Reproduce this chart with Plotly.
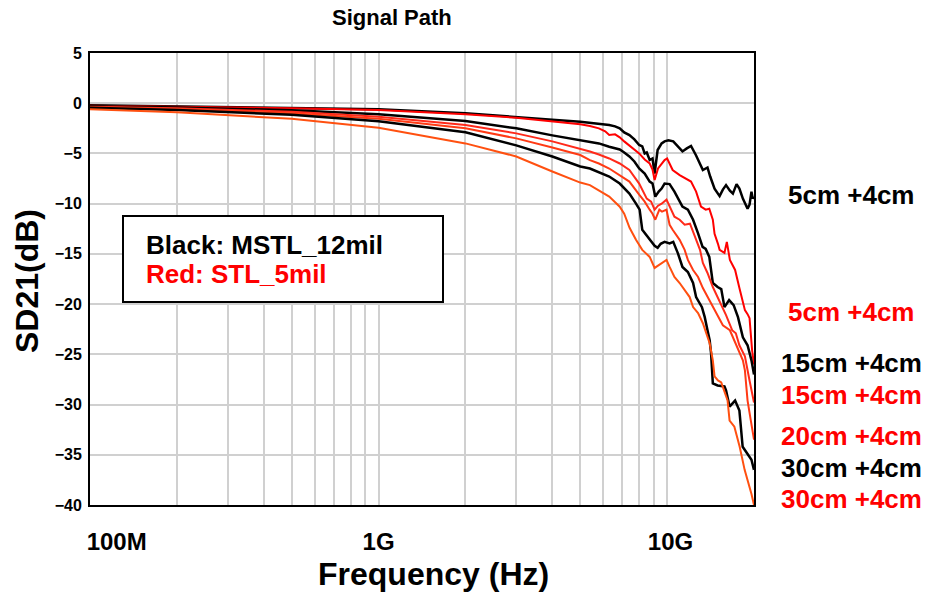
import plotly.graph_objects as go

# Frequencies in GHz, SD21 in dB
f_b5 = [0.1, 0.2, 0.5, 1, 2, 3, 4, 5, 5.4, 5.8, 6.1, 6.3, 6.6, 6.85, 7.1, 7.4, 7.7, 8.0, 8.2, 8.36, 8.5, 8.7, 8.9, 9.05, 9.27, 9.57, 9.8, 10.1, 10.5, 11.3, 11.7, 12.1, 12.6, 13.3, 13.8, 14.1, 14.6, 15.2, 15.6, 16.0, 16.5, 16.9, 17.4, 17.8, 18.3, 19.0, 19.3, 19.6, 19.8, 20]
d_b5 = [-0.2, -0.3, -0.45, -0.6, -1.0, -1.34, -1.65, -1.85, -1.95, -2.0, -2.1, -2.17, -2.3, -2.5, -2.9, -3.17, -3.6, -4.16, -4.3, -5.0, -4.9, -5.66, -5.5, -7.0, -4.66, -4.0, -3.8, -3.7, -3.8, -4.8, -4.5, -4.26, -5.2, -6.65, -6.4, -7.3, -8.5, -9.25, -8.6, -8.15, -8.7, -9.0, -8.05, -8.5, -9.5, -10.5, -10.1, -8.8, -9.5, -9.3]

f_r5 = [0.1, 0.2, 0.5, 1, 2, 3, 4, 5, 5.4, 5.8, 6.1, 6.3, 6.6, 6.85, 7.1, 7.4, 7.7, 8.0, 8.36, 8.7, 8.9, 9.05, 9.3, 9.57, 9.8, 10.0, 10.45, 11.05, 11.6, 12.1, 12.6, 13.1, 13.6, 14.0, 14.4, 14.6, 15.0, 15.2, 15.8, 16.1, 16.5, 17.2, 17.8, 18.6, 19.0, 19.3, 19.7, 20]
d_r5 = [-0.25, -0.33, -0.5, -0.68, -1.1, -1.44, -1.8, -2.1, -2.27, -2.5, -2.8, -3.17, -3.1, -3.4, -3.8, -4.2, -4.6, -5.0, -5.6, -6.0, -6.6, -7.65, -6.5, -6.0, -5.66, -5.5, -6.65, -7.15, -7.5, -7.8, -8.8, -10.3, -10.6, -10.5, -11.6, -13.0, -14.0, -14.6, -14.9, -13.8, -15.6, -16.6, -18.4, -20.6, -21.0, -21.4, -24.6, -26.0]

f_b15 = [0.1, 0.2, 0.5, 1, 2, 3, 4, 5, 5.4, 5.8, 6.3, 6.85, 7.1, 7.4, 7.7, 8.0, 8.36, 8.7, 8.9, 9.1, 9.35, 9.57, 9.8, 10.2, 10.6, 11.3, 11.8, 12.3, 12.8, 13.27, 13.6, 14.0, 14.4, 14.96, 15.4, 15.8, 16.4, 17.0, 17.6, 18.3, 19.0, 19.6, 20]
d_b15 = [-0.3, -0.42, -0.7, -1.1, -1.77, -2.5, -3.2, -3.67, -3.8, -4.0, -4.33, -4.6, -4.9, -5.3, -5.8, -6.5, -7.0, -7.8, -8.0, -9.3, -8.8, -8.5, -8.0, -8.05, -8.8, -10.3, -10.6, -11.6, -12.96, -14.3, -14.5, -15.3, -17.9, -18.3, -18.5, -20.3, -19.6, -20.1, -21.3, -23.3, -24.1, -25.6, -27.0]

f_r15 = [0.1, 0.2, 0.5, 1, 2, 3, 4, 5, 5.4, 5.8, 6.3, 6.85, 7.4, 8.0, 8.36, 8.5, 8.8, 9.05, 9.3, 9.57, 9.95, 10.2, 10.6, 11.05, 11.5, 12.0, 12.6, 13.0, 13.3, 13.8, 14.4, 14.96, 15.6, 16.0, 16.8, 17.3, 17.8, 18.6, 19.3, 20]
d_r15 = [-0.35, -0.5, -0.85, -1.35, -2.17, -3.0, -3.8, -4.5, -4.8, -5.1, -5.5, -6.0, -6.65, -8.0, -9.0, -9.5, -9.8, -10.6, -10.2, -10.0, -9.6, -10.3, -11.3, -11.6, -12.1, -12.0, -13.6, -14.6, -15.9, -16.9, -18.3, -19.3, -20.3, -21.1, -22.6, -22.9, -24.1, -25.2, -27.6, -29.8]

f_r20 = [0.1, 0.2, 0.5, 1, 2, 3, 4, 5, 5.4, 5.8, 6.3, 6.85, 7.4, 8.0, 8.36, 8.7, 8.9, 9.1, 9.4, 9.6, 9.95, 10.2, 10.45, 11.05, 11.5, 11.8, 12.3, 12.8, 13.3, 14.0, 14.6, 15.0, 15.6, 16.5, 17.1, 17.8, 18.3, 18.6, 19.0, 19.5, 20]
d_r20 = [-0.4, -0.58, -1.0, -1.55, -2.5, -3.5, -4.4, -5.16, -5.66, -6.0, -6.5, -7.15, -7.8, -9.1, -9.8, -10.6, -11.0, -11.6, -10.6, -10.8, -10.6, -12.1, -12.6, -13.6, -14.6, -15.6, -16.6, -17.3, -18.4, -19.6, -20.6, -21.1, -22.1, -22.6, -23.6, -24.9, -25.6, -26.6, -29.6, -31.6, -33.5]

f_b30 = [0.1, 0.2, 0.5, 1, 2, 3, 4, 5, 5.4, 5.8, 6.3, 6.85, 7.4, 7.8, 8.03, 8.2, 8.5, 8.7, 9.05, 9.27, 9.5, 9.8, 10.2, 10.5, 10.9, 11.3, 11.8, 12.3, 12.6, 13.2, 13.5, 13.8, 14.04, 14.2, 14.4, 14.96, 15.8, 16.0, 16.46, 17.2, 17.8, 18.27, 19.0, 19.6, 20]
d_b30 = [-0.45, -0.68, -1.15, -1.8, -2.9, -4.2, -5.3, -6.3, -6.5, -6.9, -7.3, -8.0, -9.0, -10.0, -10.6, -12.6, -13.2, -13.6, -14.2, -14.4, -14.0, -13.8, -13.95, -13.8, -14.95, -16.3, -16.8, -17.9, -19.3, -20.3, -21.3, -22.6, -23.6, -24.9, -27.9, -28.1, -28.2, -28.6, -30.2, -29.6, -30.6, -34.2, -34.9, -35.5, -36.5]

f_r30 = [0.1, 0.2, 0.5, 1, 2, 3, 4, 5, 5.4, 5.8, 6.3, 6.85, 7.1, 7.41, 7.8, 8.2, 8.7, 9.05, 9.4, 9.95, 10.2, 10.6, 11.05, 11.5, 11.97, 12.3, 12.8, 13.3, 13.8, 14.04, 14.4, 14.6, 15.0, 15.4, 16.2, 16.46, 17.1, 17.84, 18.56, 19.0, 19.6, 20]
d_r30 = [-0.6, -0.9, -1.55, -2.45, -4.0, -5.3, -6.8, -7.9, -8.15, -8.7, -9.3, -10.3, -11.0, -12.4, -13.6, -14.6, -15.3, -16.4, -16.1, -15.6, -16.3, -17.3, -17.9, -18.6, -19.3, -20.3, -20.9, -21.9, -23.3, -23.9, -25.6, -27.2, -27.6, -27.8, -29.6, -31.6, -32.2, -34.2, -36.5, -37.5, -38.9, -40.0]

series = [
    ("5cm +4cm (MSTL)", f_b5, d_b5, "#000000", 2.5),
    ("5cm +4cm (STL)", f_r5, d_r5, "#FF0000", 2.0),
    ("15cm +4cm (MSTL)", f_b15, d_b15, "#000000", 2.5),
    ("15cm +4cm (STL)", f_r15, d_r15, "#FF2A1A", 2.0),
    ("20cm +4cm (STL)", f_r20, d_r20, "#FF3A14", 2.0),
    ("30cm +4cm (MSTL)", f_b30, d_b30, "#000000", 2.5),
    ("30cm +4cm (STL)", f_r30, d_r30, "#FF5010", 2.0),
]

x_tickvals = [1e8, 1e9, 1e10]
x_ticktext = ["\u00a0\u00a0\u00a0\u00a0\u00a0\u00a0\u00a0\u00a0100M", "1G", "\u00a010G"]
y_tickvals = [5, 0, -5, -10, -15, -20, -25, -30, -35, -40]

end_labels = ["5cm +4cm", "5cm +4cm", "15cm +4cm", "15cm +4cm", "20cm +4cm", "30cm +4cm", "30cm +4cm"]
end_label_colors = ["#000000", "#FF0000", "#000000", "#FF0000", "#FF0000", "#000000", "#FF0000"]
end_label_py = [195, 312, 363, 395, 436, 468, 499]

FONT = "Liberation Sans, Arial, sans-serif"
L, R, T, B = 90, 754, 53, 505
W, H = 926, 592

def px(xp):
    return (xp - L) / (R - L)

def py(yp):
    return (B - yp) / (B - T)

fig = go.Figure()
for name, f, d, c, w in series:
    fig.add_trace(go.Scatter(x=[v * 1e9 for v in f], y=d, mode="lines", name=name,
                             line=dict(color=c, width=w), showlegend=False))

minor_vals = []
for dec in [1e8, 1e9]:
    for k in range(2, 10):
        minor_vals.append(k * dec)
minor_vals.append(2e10)

fig.update_layout(
    width=W, height=H,
    margin=dict(l=L, r=W - R, t=T, b=H - B),
    paper_bgcolor="white", plot_bgcolor="white",
    font=dict(family=FONT, color="black"),
    xaxis=dict(type="log", range=[8, 10.30103], tickvals=x_tickvals, ticktext=x_ticktext,
               showgrid=True, gridcolor="#D0D0D0", gridwidth=1.5,
               minor=dict(tickvals=minor_vals, showgrid=True, gridcolor="#D0D0D0", gridwidth=1.5, ticklen=0),
               showline=True, linecolor="black", linewidth=2, mirror=True, ticks="", ticklen=0,
               tickfont=dict(family=FONT, size=24, weight="bold", color="black"),
               ticklabelstandoff=14, zeroline=False),
    yaxis=dict(range=[-40, 5], tickvals=y_tickvals, showgrid=True, gridcolor="#D0D0D0", gridwidth=1.5,
               showline=True, linecolor="black", linewidth=2, mirror=True, ticks="", ticklen=0,
               tickfont=dict(family=FONT, size=16, weight="bold", color="black"),
               ticklabelstandoff=3, zeroline=False),
)

ann = []
ann.append(dict(text="Signal Path", x=px(392), y=py(18), xref="paper", yref="paper",
                showarrow=False, xanchor="center", yanchor="middle",
                font=dict(family=FONT, size=22, weight="bold", color="black")))
ann.append(dict(text="Frequency (Hz)", x=px(433), y=py(574), xref="paper", yref="paper",
                showarrow=False, xanchor="center", yanchor="middle",
                font=dict(family=FONT, size=32, weight="bold", color="black")))
ann.append(dict(text="SD21(dB)", x=px(27), y=py(281), xref="paper", yref="paper", textangle=-90,
                showarrow=False, xanchor="center", yanchor="middle",
                font=dict(family=FONT, size=32, weight="bold", color="black")))
for t, c, yp in zip(end_labels, end_label_colors, end_label_py):
    ann.append(dict(text=t, x=px(851), y=py(yp), xref="paper", yref="paper",
                    showarrow=False, xanchor="center", yanchor="middle",
                    font=dict(family=FONT, size=26, weight="bold", color=c)))
ann.append(dict(text="Black: MSTL_12mil", x=px(144), y=py(245), xref="paper", yref="paper",
                showarrow=False, xanchor="left", yanchor="middle",
                font=dict(family=FONT, size=26, weight="bold", color="black")))
ann.append(dict(text="Red: STL_5mil", x=px(144), y=py(274), xref="paper", yref="paper",
                showarrow=False, xanchor="left", yanchor="middle",
                font=dict(family=FONT, size=26, weight="bold", color="#FF0000")))
fig.update_layout(annotations=ann)

fig.add_shape(type="rect", xref="paper", yref="paper", x0=px(123), x1=px(443), y0=py(302), y1=py(216),
              line=dict(color="black", width=2), fillcolor="white", layer="above")

fig.write_html("out.html")
